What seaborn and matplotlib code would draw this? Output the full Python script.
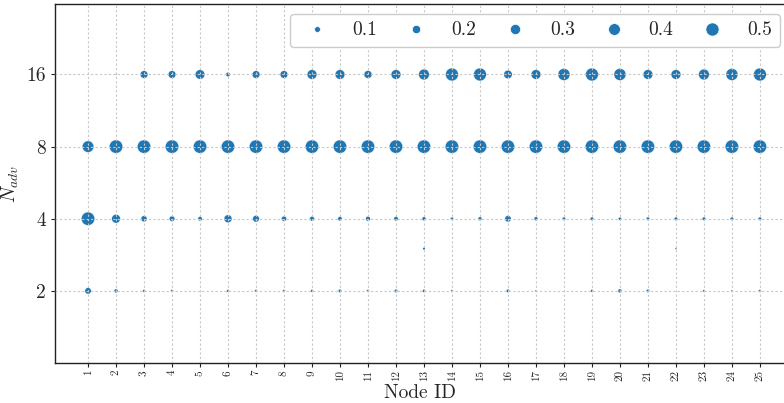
import numpy as np
import pandas as pd
import seaborn as sns
import matplotlib
matplotlib.use("Agg")
import matplotlib.pyplot as plt
from matplotlib.lines import Line2D

# Node IDs and adversary counts
nodes = list(range(1, 26))
n_adv_levels = [2, 3, 4, 8, 16]

# Share of runs per node for each adversary count
share_16 = [0.0, 0.005, 0.16, 0.16, 0.25, 0.05, 0.16, 0.16, 0.26, 0.26, 0.17, 0.26, 0.32,
            0.46, 0.46, 0.20, 0.26, 0.40, 0.46, 0.40, 0.26, 0.26, 0.32, 0.40, 0.46]
share_8 = [0.37, 0.75, 0.72, 0.74, 0.70, 0.76, 0.70, 0.75, 0.66, 0.66, 0.75, 0.66, 0.60,
           0.50, 0.50, 0.66, 0.69, 0.57, 0.50, 0.54, 0.68, 0.70, 0.64, 0.56, 0.50]
share_4 = [0.52, 0.21, 0.10, 0.08, 0.05, 0.17, 0.12, 0.07, 0.06, 0.05, 0.06, 0.05, 0.04,
           0.025, 0.04, 0.11, 0.04, 0.03, 0.03, 0.025, 0.03, 0.03, 0.03, 0.03, 0.03]
share_3 = [0.0, 0.0, 0.0, 0.0, 0.0, 0.0, 0.0, 0.0, 0.0, 0.0, 0.0, 0.0, 0.015,
           0.0, 0.0, 0.0, 0.0, 0.0, 0.0, 0.0, 0.0, 0.008, 0.0, 0.0, 0.0]
share_2 = [0.11, 0.04, 0.02, 0.02, 0.0, 0.02, 0.02, 0.02, 0.02, 0.03, 0.02, 0.03, 0.025,
           0.015, 0.0, 0.03, 0.01, 0.0, 0.02, 0.04, 0.03, 0.0, 0.015, 0.01, 0.02]

legend_values = [0.1, 0.2, 0.3, 0.4, 0.5]

shares = {2: share_2, 3: share_3, 4: share_4, 8: share_8, 16: share_16}
rows = []
for lvl in n_adv_levels:
    for node, val in zip(nodes, shares[lvl]):
        if val > 0:
            rows.append({"node": node, "n_adv": lvl, "share": val})
df = pd.DataFrame(rows)

sns.set_theme(style="ticks")
plt.rcParams["font.family"] = ["cmr10", "DejaVu Serif"]
plt.rcParams["mathtext.fontset"] = "cm"
plt.rcParams["axes.formatter.use_mathtext"] = True

BLUE = "#1f77b4"
SMAX = 90.0  # marker area (pt^2) at share 0.5

fig = plt.figure(figsize=(7.84, 4.03), dpi=100)
ax = fig.add_axes([55 / 784, 40 / 403, 729 / 784, 359 / 403])

sns.scatterplot(data=df, x="node", y="n_adv", size="share",
                sizes=(0, SMAX), size_norm=(0, 0.5), color=BLUE,
                legend=False, ax=ax, zorder=2)

ax.set_yscale("log", base=2)
ax.set_ylim(1, 31.5)
ax.set_xlim(-0.18, 25.86)
ax.set_yticks([2, 4, 8, 16])
ax.set_yticklabels(["2", "4", "8", "16"], fontsize=14)
ax.yaxis.set_minor_locator(matplotlib.ticker.NullLocator())
ax.set_xticks(nodes)
ax.set_xticklabels([str(n) for n in nodes], rotation=90, fontsize=8)

ax.set_axisbelow(False)
ax.grid(True, color="#c8c8c8", linestyle=(0, (2, 2)), linewidth=0.8, zorder=3)

for side in ["left", "bottom", "top"]:
    ax.spines[side].set_color("#222222")
    ax.spines[side].set_linewidth(1.0)
ax.spines["right"].set_visible(False)
ax.tick_params(axis="both", direction="out", length=3, width=0.8, color="#222222")
ax.tick_params(axis="x", pad=2)

ax.set_xlabel("Node ID", fontsize=14, labelpad=2)
ax.set_ylabel(r"$N_{adv}$", fontsize=14, labelpad=4)

handles = [Line2D([], [], marker="o", linestyle="", color=BLUE,
                  markeredgecolor="w", markeredgewidth=0.5,
                  markersize=np.sqrt(v / 0.5 * SMAX)) for v in legend_values]
ax.legend(handles, [str(v) for v in legend_values], ncol=5, loc="upper right",
          fontsize=14, frameon=True, edgecolor="#cccccc", framealpha=1,
          handletextpad=0.8, columnspacing=1.0, borderaxespad=0.5,
          bbox_to_anchor=(1.008, 1.0))

fig.savefig("out.png", dpi=100)
